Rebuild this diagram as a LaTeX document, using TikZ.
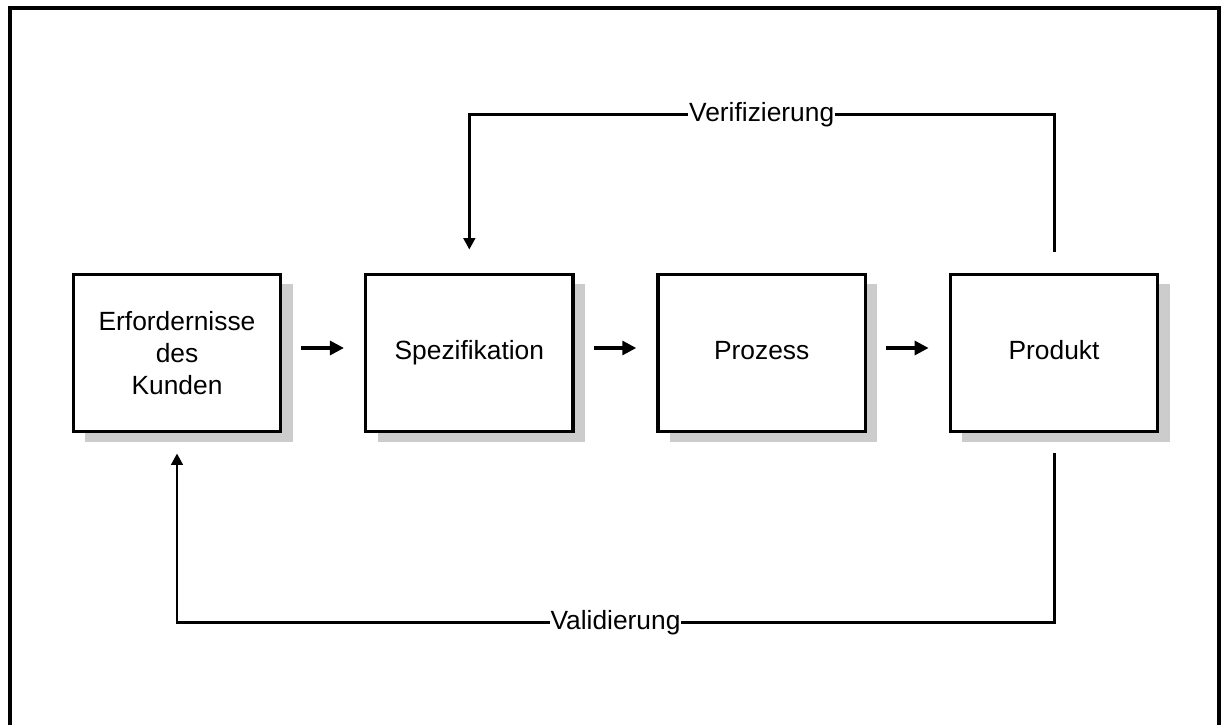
\documentclass[tikz,border=0pt]{standalone}
\usepackage{fontspec}
\setmainfont{Liberation Sans}
\usetikzlibrary{positioning,arrows.meta,shadows}
\definecolor{boxshadow}{HTML}{CCCCCC}

\begin{document}
\begin{tikzpicture}[
  node distance=1.63cm,
  box/.style={rectangle,draw=black,fill=white,line width=1.9pt,minimum width=4.15cm,
              minimum height=3.15cm,align=center,font=\fontsize{15}{18}\selectfont,
              drop shadow={shadow xshift=0.24cm,shadow yshift=-0.2cm,fill=boxshadow,opacity=1}},
  oneline/.style={text height=1.85ex,text depth=0.45ex},
  arr/.style={-{Triangle[length=2.8mm,width=2.8mm]},line width=1.8pt,
              shorten <=0.38cm,shorten >=0.4cm},
  fb/.style={-{Triangle[length=2.3mm,width=2.3mm]},line width=1.7pt},
  lbl/.style={fill=white,inner sep=0.5pt,font=\fontsize{15}{18}\selectfont}
]
\useasboundingbox (0,0) rectangle (24.42,-14.5);
% frame, open at the bottom
\draw[line width=2.4pt] (0.2,-14.8) -- (0.2,-0.16) -- (24.39,-0.16) -- (24.39,-14.8);

\node[box] (ek) at (3.54,-7.06) {Erfordernisse\\des\\Kunden};
\node[box,oneline,right=of ek] (sp) {Spezifikation};
\node[box,oneline,right=of sp] (pz) {Prozess};
\node[box,oneline,right=of pz] (pd) {Produkt};

\draw[arr] ([yshift=1mm]ek.east) -- ([yshift=1mm]sp.west);
\draw[arr] ([yshift=1mm]sp.east) -- ([yshift=1mm]pz.west);
\draw[arr] ([yshift=1mm]pz.east) -- ([yshift=1mm]pd.west);

% feedback loops
\draw[fb,shorten <=0.42cm,shorten >=0.46cm] (pd.north) -- ++(0,3.16)
  -| node[pos=0.25,lbl] {Verifizierung} (sp.north);
\draw[fb,shorten <=0.4cm,shorten >=0.4cm] (pd.south) -- ++(0,-3.78)
  -| node[pos=0.25,lbl] {Validierung} (ek.south);
\end{tikzpicture}
\end{document}
